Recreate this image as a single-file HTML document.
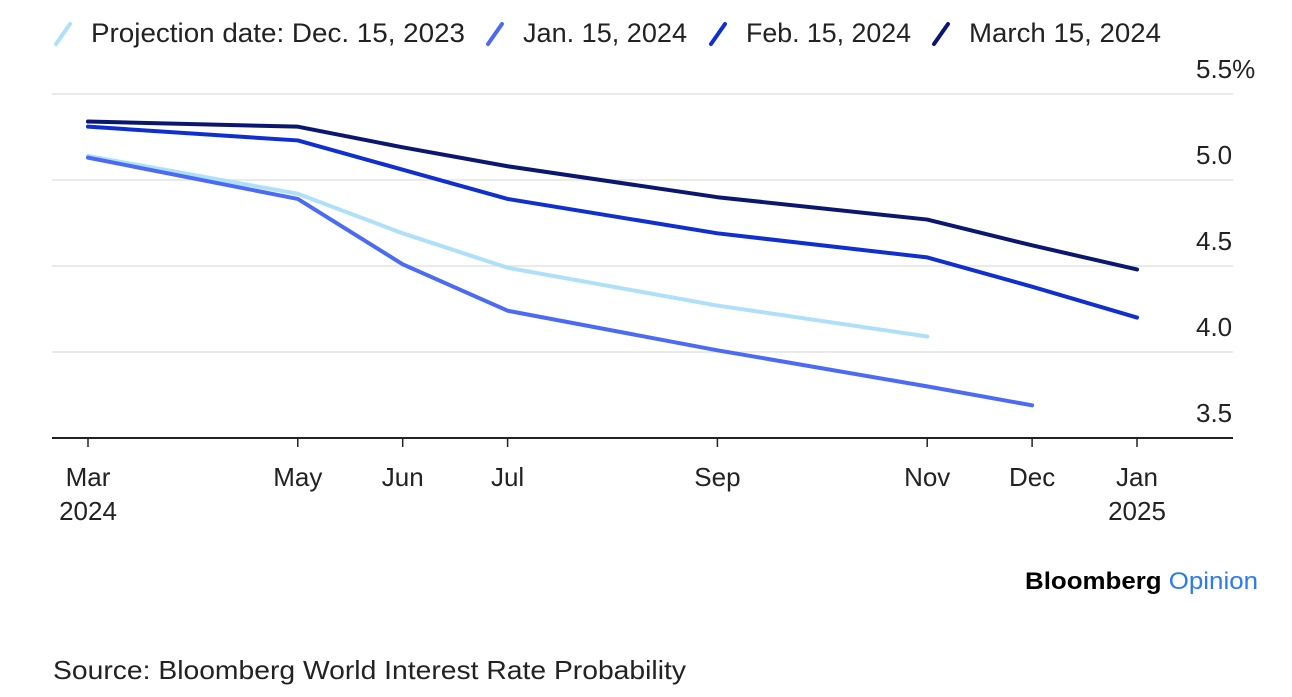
<!DOCTYPE html>
<html><head><meta charset="utf-8"><style>
body{margin:0;background:#fff;width:1292px;height:692px;overflow:hidden;font-family:"Liberation Sans",sans-serif;}
</style></head><body>
<svg id="chart" width="1292" height="692" xmlns="http://www.w3.org/2000/svg" font-family="Liberation Sans, sans-serif">
<g id="legend"></g>
<g id="grid"></g>
<g id="xaxis"></g>
<g id="series"></g>
<text x="1025" y="589" font-size="24" font-weight="bold" fill="#000" textLength="233" lengthAdjust="spacingAndGlyphs">Bloomberg <tspan fill="#2b7bf0" font-weight="normal">Opinion</tspan></text>
<text x="53" y="679" font-size="26" fill="#222" textLength="633" lengthAdjust="spacingAndGlyphs">Source: Bloomberg World Interest Rate Probability</text>
</svg>
<script>
const monthIdx=[0,2,3,4,6,8,9,10];
const monthLabels=["Mar","May","Jun","Jul","Sep","Nov","Dec","Jan"];
const yearLabels=["2024","","","","","","","2025"];
const yTicks=[5.5,5.0,4.5,4.0,3.5];
const yTickLabels=["5.5%","5.0","4.5","4.0","3.5"];
const seriesNames=["Projection date: Dec. 15, 2023","Jan. 15, 2024","Feb. 15, 2024","March 15, 2024"];
const dec15=[5.14,4.92,4.69,4.49,4.27,4.09,null,null];
const jan15=[5.13,4.89,4.51,4.24,4.01,3.80,3.69,null];
const feb15=[5.31,5.23,5.06,4.89,4.69,4.55,4.38,4.20];
const mar15=[5.34,5.31,5.19,5.08,4.90,4.77,4.62,4.48];
const allSeries=[dec15,jan15,feb15,mar15];
const colors=["#aee0f9","#4c6bf5","#0f2fd0","#0b176e"];
const NS="http://www.w3.org/2000/svg";
const x=m=>88+m*104.9;
const y=v=>94+(5.5-v)*172;
function mk(tag,attrs,parent){const e=document.createElementNS(NS,tag);for(const k in attrs)e.setAttribute(k,attrs[k]);parent.appendChild(e);return e;}
const grid=document.getElementById('grid');
yTicks.forEach((t,i)=>{
  const l=mk('line',{x1:52,x2:1233,y1:y(t),y2:y(t),stroke:i===yTicks.length-1?'#222':'#e3e3e3','stroke-width':i===yTicks.length-1?2:1.5},grid);
  
  
  const tx=mk('text',{x:1196,y:y(t)-16,'font-size':26,fill:'#222'},grid);
  tx.textContent=yTickLabels[i];
  
  
});
const xa=document.getElementById('xaxis');
monthIdx.forEach((m,i)=>{
  const tk=mk('line',{x1:x(m),x2:x(m),y1:y(3.5),y2:y(3.5)+9,stroke:'#222','stroke-width':1.5},xa);
  
  
  const t=mk('text',{x:x(m),y:486,'font-size':26,fill:'#222','text-anchor':'middle'},xa);
  t.textContent=monthLabels[i];
  
  
  if(yearLabels[i]){const t2=mk('text',{x:x(m),y:520,'font-size':26,fill:'#222','text-anchor':'middle'},xa);
  t2.textContent=yearLabels[i];
  
  }
});
const sg=document.getElementById('series');
allSeries.forEach((s,si)=>{
  const pts=[];s.forEach((v,i)=>{if(v!==null)pts.push(x(monthIdx[i])+','+y(v));});
  const p=mk('polyline',{points:pts.join(' '),fill:'none',stroke:colors[si],'stroke-width':4,'stroke-linejoin':'round','stroke-linecap':'round'},sg);
  
  
});
const lg=document.getElementById('legend');
const lx=[56,488,711,934];
const lw=[374,164,165,192];
seriesNames.forEach((n,i)=>{
  const l=mk('line',{x1:lx[i],y1:44,x2:lx[i]+14,y2:24,stroke:colors[i],'stroke-width':4,'stroke-linecap':'round'},lg);
  
  
  const t=mk('text',{x:lx[i]+35,y:42,'font-size':27,fill:'#222',textLength:lw[i],lengthAdjust:'spacingAndGlyphs'},lg);
  t.textContent=n;
  
  
});
</script>
</body></html>
